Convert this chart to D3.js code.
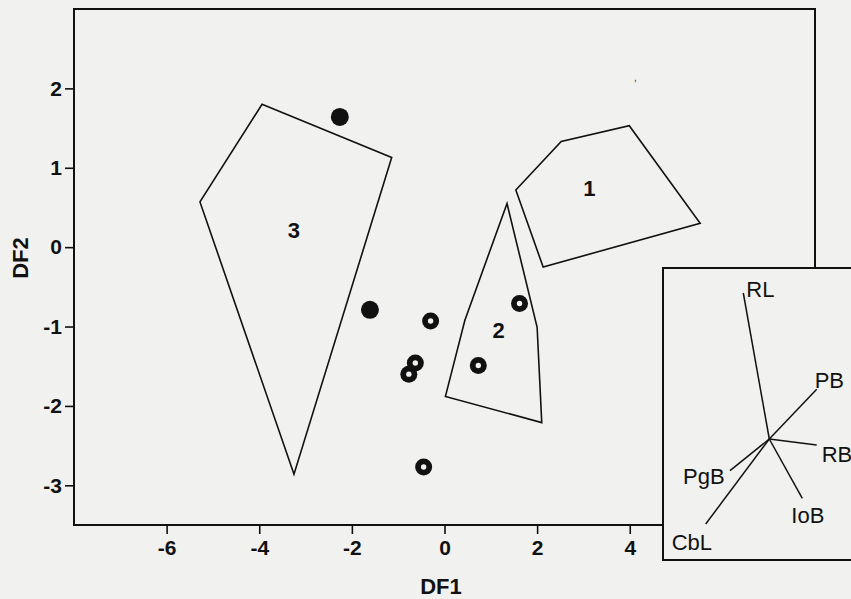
<!DOCTYPE html>
<html lang="en">
<head>
    <meta charset="UTF-8">
    <title>DF1 / DF2</title>
    <script src="https://d3js.org/d3.v7.min.js"></script>
    <style>
        body { margin: 0; background: #f1f1ef; }
        svg { display: block; font-family: "Liberation Sans", Arial, Helvetica, sans-serif; }
        .axis text { font-size: 21px; font-weight: bold; fill: #111; }
        .axis line { stroke: #111; stroke-width: 1.6px; }
    </style>
</head>
<body>

<svg width="851" height="599"></svg>

<script>

    // tick values
    var xTicks = [-6, -4, -2, 0, 2, 4];
    var yTicks = [-3, -2, -1, 0, 1, 2];

    // group polygons (DF1, DF2)
    var group1 = [[1.54, 0.72], [2.52, 1.33], [3.99, 1.53], [5.52, 0.30], [2.13, -0.25]];
    var group2 = [[1.35, 0.55], [2.00, -1.01], [2.10, -2.21], [0.02, -1.88], [0.44, -0.92]];
    var group3 = [[-3.94, 1.80], [-1.14, 1.13], [-3.25, -2.86], [-5.28, 0.57]];
    var groupNames = ['1', '2', '3'];
    var groupLabelPos = [[3.13, 0.74], [1.17, -1.05], [-3.25, 0.21]];

    // individual specimens
    var filledPts = [[-2.26, 1.64], [-1.61, -0.79]];
    var ringPts = [[-0.30, -0.93], [-0.63, -1.46], [-0.77, -1.60], [0.73, -1.49], [1.62, -0.71], [-0.45, -2.77]];

    // biplot vectors in the inset
    var varNames = ['RL', 'PB', 'RB', 'IoB', 'CbL', 'PgB'];
    var loadX = [-0.26, 0.474, 0.474, 0.33, -0.636, -0.393];
    var loadY = [1.46, 0.497, -0.06, -0.593, -0.85, -0.317];

    var svg = d3.select('svg');

    var mLeft = 74, mRight = 815, mTop = 9, mBottom = 525;

    var x = d3.scaleLinear().domain([-8, 8]).range([mLeft, mRight]);
    var y = d3.scaleLinear().domain([-3.5, 3]).range([mBottom, mTop]);

    // frame
    svg.append('rect')
        .attr('x', mLeft).attr('y', mTop)
        .attr('width', mRight - mLeft).attr('height', mBottom - mTop)
        .attr('fill', 'none').attr('stroke', '#111').attr('stroke-width', 2);

    // axes
    var fmt = function (d) { return d < 0 ? '-' + Math.abs(d) : d; };
    var axisX = d3.axisBottom(x).tickValues(xTicks).tickSize(9).tickPadding(6).tickFormat(fmt);
    var axisY = d3.axisLeft(y).tickValues(yTicks).tickSize(9).tickPadding(3).tickFormat(fmt);

    svg.append('g').attr('class', 'axis')
        .attr('transform', 'translate(0,' + mBottom + ')')
        .call(axisX)
        .call(function (g) { g.select('.domain').remove(); });

    svg.append('g').attr('class', 'axis')
        .attr('transform', 'translate(' + mLeft + ',0)')
        .call(axisY)
        .call(function (g) { g.select('.domain').remove(); });

    // axis titles
    svg.append('text')
        .attr('x', 441).attr('y', 594)
        .attr('text-anchor', 'middle')
        .style('font-size', '22px').style('font-weight', 'bold').attr('fill', '#111')
        .text('DF1');

    svg.append('text')
        .attr('transform', 'translate(28,258) rotate(-90)')
        .attr('text-anchor', 'middle')
        .style('font-size', '22px').style('font-weight', 'bold').attr('fill', '#111')
        .text('DF2');

    // polygons
    var line = d3.line()
        .x(function (d) { return x(d[0]); })
        .y(function (d) { return y(d[1]); })
        .curve(d3.curveLinearClosed);

    svg.selectAll('path.group')
        .data([group1, group2, group3])
        .enter()
        .append('path')
        .attr('class', 'group')
        .attr('d', line)
        .attr('fill', 'none')
        .attr('stroke', '#111')
        .attr('stroke-width', 1.6)
        .attr('stroke-linejoin', 'miter');

    svg.selectAll('text.glabel')
        .data(groupNames)
        .enter()
        .append('text')
        .attr('class', 'glabel')
        .attr('x', function (d, i) { return x(groupLabelPos[i][0]); })
        .attr('y', function (d, i) { return y(groupLabelPos[i][1]); })
        .attr('dy', '0.36em')
        .attr('text-anchor', 'middle')
        .style('font-size', '22px').style('font-weight', 'bold').attr('fill', '#111')
        .text(function (d) { return d; });

    // filled dots
    svg.selectAll('circle.filled')
        .data(filledPts)
        .enter()
        .append('circle')
        .attr('class', 'filled')
        .attr('cx', function (d) { return x(d[0]); })
        .attr('cy', function (d) { return y(d[1]); })
        .attr('r', 9)
        .attr('fill', '#111');

    // ring dots
    var rings = svg.selectAll('g.ring')
        .data(ringPts)
        .enter()
        .append('g')
        .attr('class', 'ring')
        .attr('transform', function (d) { return 'translate(' + x(d[0]) + ',' + y(d[1]) + ')'; });
    rings.append('circle').attr('r', 8.5).attr('fill', '#111');
    rings.append('circle').attr('r', 2.7).attr('fill', '#f1f1ef');

    // small mark near top right
    svg.append('text')
        .attr('x', 634).attr('y', 81)
        .style('font-size', '10px').attr('fill', '#333')
        .text(',');

    // inset biplot
    var insetLeft = 663, insetTop = 268, insetBottom = 560;
    svg.append('rect')
        .attr('x', insetLeft).attr('y', insetTop)
        .attr('width', 260).attr('height', insetBottom - insetTop)
        .attr('fill', '#f1f1ef').attr('stroke', '#111').attr('stroke-width', 2);

    var ix = d3.scaleLinear().domain([-1, 1]).range([669.3, 869.3]);
    var iy = d3.scaleLinear().domain([-1, 1]).range([539, 339]);

    // label offsets (pixels) from the vector tips
    var labelDx = [3, -2, 5, -11, -34, -47];
    var labelDy = [4, -1, 17, 25, 26, 13];

    svg.selectAll('line.vec')
        .data(varNames)
        .enter()
        .append('line')
        .attr('class', 'vec')
        .attr('x1', ix(0)).attr('y1', iy(0))
        .attr('x2', function (d, i) { return ix(loadX[i]); })
        .attr('y2', function (d, i) { return iy(loadY[i]); })
        .attr('stroke', '#111')
        .attr('stroke-width', 1.5);

    svg.selectAll('text.vlabel')
        .data(varNames)
        .enter()
        .append('text')
        .attr('class', 'vlabel')
        .attr('x', function (d, i) { return ix(loadX[i]) + labelDx[i]; })
        .attr('y', function (d, i) { return iy(loadY[i]) + labelDy[i]; })
        .style('font-size', '22px').attr('fill', '#111')
        .text(function (d) { return d; });

</script>
</body>
</html>
